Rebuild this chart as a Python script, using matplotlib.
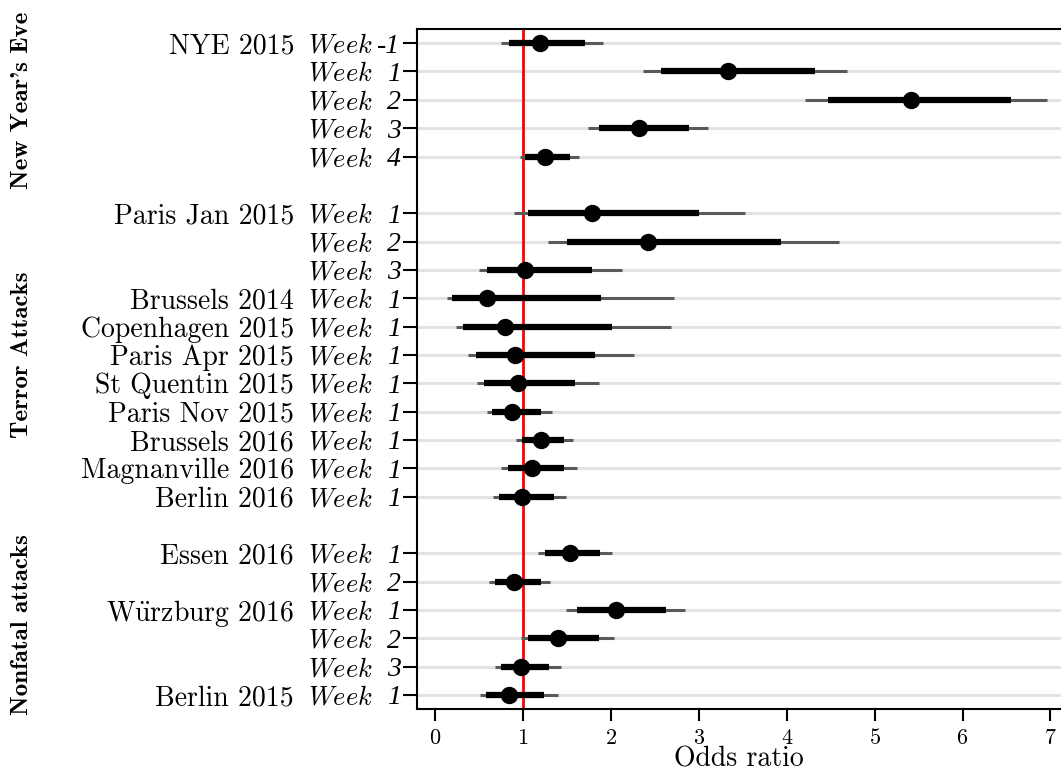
import numpy as np
import matplotlib.pyplot as plt
import matplotlib.transforms as mtransforms

plt.rcParams['font.family'] = 'serif'
plt.rcParams['font.serif'] = ['cmr10']
plt.rcParams['mathtext.fontset'] = 'cm'
plt.rcParams['axes.formatter.use_mathtext'] = True
plt.rcParams['axes.unicode_minus'] = False

# data
groups = ["New Year's Eve", "Terror Attacks", "Nonfatal attacks"]
group_of = [0]*5 + [1]*11 + [2]*6
events = ["NYE 2015", "", "", "", "",
          "Paris Jan 2015", "", "", "Brussels 2014", "Copenhagen 2015",
          "Paris Apr 2015", "St Quentin 2015", "Paris Nov 2015", "Brussels 2016",
          "Magnanville 2016", "Berlin 2016",
          "Essen 2016", "", r"W$\ddot{\rm u}$rzburg 2016", "", "", "Berlin 2015"]
weeks = ["-1", "1", "2", "3", "4",
         "1", "2", "3", "1", "1", "1", "1", "1", "1", "1", "1",
         "1", "2", "1", "2", "3", "1"]
odds = [1.19, 3.33, 5.41, 2.32, 1.25,
        1.78, 2.42, 1.02, 0.59, 0.79, 0.91, 0.94, 0.88, 1.20, 1.10, 0.985,
        1.53, 0.90, 2.06, 1.40, 0.98, 0.84]
inner_lo = [0.836, 2.57, 4.47, 1.86, 1.02,
            1.06, 1.50, 0.59, 0.19, 0.32, 0.46, 0.56, 0.65, 0.985, 0.83, 0.725,
            1.25, 0.68, 1.62, 1.06, 0.745, 0.575]
inner_hi = [1.705, 4.32, 6.55, 2.89, 1.54,
            3.00, 3.93, 1.79, 1.89, 2.01, 1.82, 1.59, 1.21, 1.47, 1.47, 1.35,
            1.88, 1.20, 2.63, 1.86, 1.30, 1.24]
outer_lo = [0.745, 2.37, 4.21, 1.74, 0.966,
            0.90, 1.28, 0.495, 0.13, 0.24, 0.37, 0.48, 0.59, 0.92, 0.75, 0.66,
            1.17, 0.61, 1.49, 0.975, 0.68, 0.51]
outer_hi = [1.91, 4.68, 6.96, 3.11, 1.64,
            3.53, 4.59, 2.13, 2.72, 2.68, 2.26, 1.87, 1.33, 1.57, 1.61, 1.49,
            2.01, 1.31, 2.84, 2.04, 1.43, 1.40]

pos = np.arange(len(odds)) + np.array(group_of)

fig = plt.figure(figsize=(10.61, 7.75), dpi=100)
ax = fig.add_axes([0.393, 0.085, 0.607, 0.8776])

for y in pos:
    ax.axhline(y, color='#e3e3e3', lw=2.2, zorder=0)
ax.axvline(1, color='red', lw=2, zorder=1)
ax.hlines(pos, outer_lo, outer_hi, color='#5a5a5a', lw=2.2, zorder=2)
ax.hlines(pos, inner_lo, inner_hi, color='black', lw=4.5, zorder=3)
ax.plot(odds, pos, 'o', color='black', ms=11.5, zorder=4)

ax.set_xlim(-0.206, 7.12)
ax.set_ylim(pos.max() + 0.5, -0.5)
ax.set_xticks(range(8))
ax.tick_params(axis='x', labelsize=16, length=8.6, width=1.5, pad=5)
ax.set_yticks(pos)
ax.set_yticklabels([''] * len(pos))
ax.tick_params(axis='y', length=10, width=1.5)
for s in ['left', 'bottom', 'top']:
    ax.spines[s].set_linewidth(1.5)
ax.spines['right'].set_visible(False)
ax.set_xlabel('Odds ratio', fontsize=20, labelpad=-1)

trans = mtransforms.blended_transform_factory(fig.transFigure, ax.transData)
for y, ev, wk in zip(pos, events, weeks):
    if ev:
        ax.text(0.2771, y, ev, transform=trans, ha='right', va='center_baseline', fontsize=20)
    ax.text(0.2903, y, r'$\mathit{Week}$', transform=trans, ha='left', va='center_baseline', fontsize=19)
    ax.text(0.3775, y, wk, transform=trans, ha='right', va='center_baseline', fontsize=20,
            family='Liberation Serif', style='italic')

g = np.array(group_of)
for i, name in enumerate(groups):
    yc = (pos[g == i].min() + pos[g == i].max()) / 2
    ax.text(0.0203, yc, name, transform=trans, rotation=90, ha='center', va='center',
            family='cmb10', fontsize=18)

fig.savefig('out.png', dpi=100)
